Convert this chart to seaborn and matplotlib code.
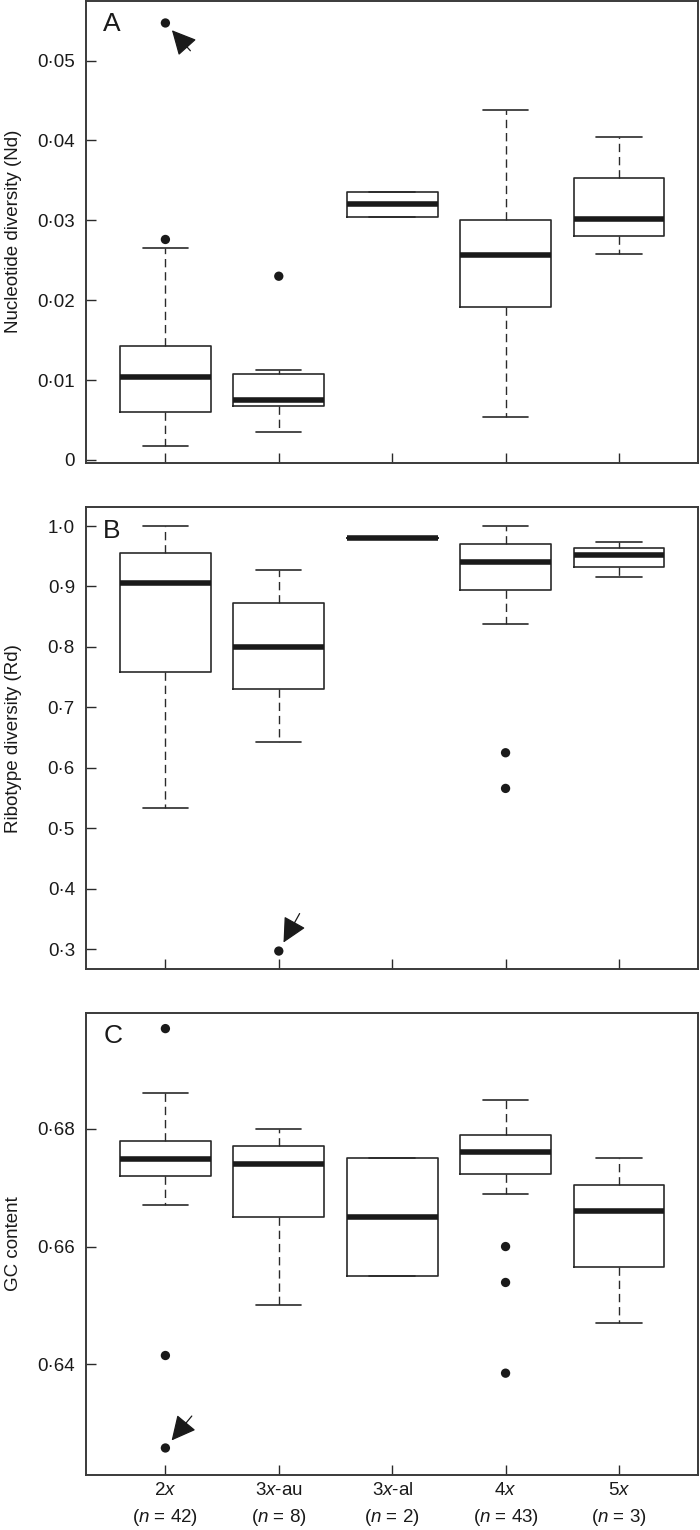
import matplotlib
matplotlib.use('Agg')
import matplotlib.pyplot as plt
import seaborn as sns
import pandas as pd

# ── DATA ─────────────────────────────────────────────────────────
groups = ['2x', '3x-au', '3x-al', '4x', '5x']
group_labels = ['2$\\it{x}$', '3$\\it{x}$-au', '3$\\it{x}$-al', '4$\\it{x}$', '5$\\it{x}$']
n_counts = [42, 8, 2, 43, 3]

# A: nucleotide diversity
nd_lo = [0.0018, 0.0035, 0.0304, 0.0054, 0.0258]
nd_q1 = [0.0060, 0.0068, 0.0304, 0.0192, 0.0280]
nd_med = [0.0104, 0.0075, 0.0320, 0.0256, 0.0302]
nd_q3 = [0.0143, 0.0107, 0.0335, 0.0300, 0.0353]
nd_hi = [0.0265, 0.0112, 0.0335, 0.0438, 0.0404]
nd_fliers = [[0.0276, 0.0547], [0.0230], [], [], []]
nd_marked = ('2x', 0.0547)

# B: ribotype diversity
rd_lo = [0.533, 0.643, 0.980, 0.838, 0.915]
rd_q1 = [0.758, 0.731, 0.980, 0.895, 0.933]
rd_med = [0.905, 0.800, 0.980, 0.941, 0.952]
rd_q3 = [0.956, 0.872, 0.980, 0.971, 0.963]
rd_hi = [1.000, 0.927, 0.980, 1.000, 0.974]
rd_fliers = [[], [0.297], [], [0.625, 0.566], []]
rd_marked = ('3x-au', 0.297)

# C: GC content
gc_lo = [0.6670, 0.6500, 0.6550, 0.6689, 0.6470]
gc_q1 = [0.6720, 0.6650, 0.6550, 0.6724, 0.6565]
gc_med = [0.6749, 0.6740, 0.6650, 0.6760, 0.6660]
gc_q3 = [0.6779, 0.6770, 0.6750, 0.6789, 0.6704]
gc_hi = [0.6860, 0.6800, 0.6750, 0.6849, 0.6750]
gc_fliers = [[0.6970, 0.6415, 0.6258], [], [], [0.6600, 0.6539, 0.6385], []]
gc_marked = ('2x', 0.6258)

sns.set_style('ticks')
plt.rcParams['font.family'] = ['Liberation Sans', 'DejaVu Sans']
plt.rcParams['mathtext.fontset'] = 'custom'
plt.rcParams['mathtext.rm'] = 'Liberation Sans'
plt.rcParams['mathtext.it'] = 'Liberation Sans:italic'

LINE = '#2a2a2a'

panels = [
    dict(letter='A', ylabel='Nucleotide diversity (Nd)', lo=nd_lo, q1=nd_q1, med=nd_med, q3=nd_q3, hi=nd_hi,
         fliers=nd_fliers, marked=nd_marked, arrow=(18, -20), ylim=(-0.00034, 0.0575),
         ticks=[0, 0.01, 0.02, 0.03, 0.04, 0.05], fmt=lambda v: '0' if v == 0 else f'{v:.2f}'.replace('.', '·'),
         rect=[0.1229, 0.6976, 0.8747, 0.3020]),
    dict(letter='B', ylabel='Ribotype diversity (Rd)', lo=rd_lo, q1=rd_q1, med=rd_med, q3=rd_q3, hi=rd_hi,
         fliers=rd_fliers, marked=rd_marked, arrow=(15, 27), ylim=(0.2669, 1.0314),
         ticks=[0.3, 0.4, 0.5, 0.6, 0.7, 0.8, 0.9, 1.0], fmt=lambda v: f'{v:.1f}'.replace('.', '·'),
         rect=[0.1229, 0.3665, 0.8747, 0.3021]),
    dict(letter='C', ylabel='GC content', lo=gc_lo, q1=gc_q1, med=gc_med, q3=gc_q3, hi=gc_hi,
         fliers=gc_fliers, marked=gc_marked, arrow=(19, 23), ylim=(0.6212, 0.6997),
         ticks=[0.64, 0.66, 0.68], fmt=lambda v: f'{v:.2f}'.replace('.', '·'),
         rect=[0.1229, 0.0359, 0.8747, 0.3022]),
]

fig = plt.figure(figsize=(7, 15.3), dpi=100)
positions = list(range(1, len(groups) + 1))

for p in panels:
    ax = fig.add_axes(p['rect'])
    stats = []
    for i, g in enumerate(groups):
        stats.append(dict(label=g, whislo=p['lo'][i], q1=p['q1'][i], med=p['med'][i],
                          q3=p['q3'][i], whishi=p['hi'][i], fliers=[]))
    ax.bxp(stats, positions=positions, widths=0.8, capwidths=0.4, showfliers=False,
           patch_artist=False,
           boxprops=dict(color=LINE, linewidth=1.2),
           whiskerprops=dict(color=LINE, linewidth=1.0, linestyle=(0, (6, 3.5))),
           capprops=dict(color=LINE, linewidth=1.2),
           medianprops=dict(color='#1a1a1a', linewidth=4.0, solid_capstyle='butt'))

    # outlier points
    fl = pd.DataFrame([(positions[i], v) for i, vals in enumerate(p['fliers']) for v in vals],
                      columns=['pos', 'value'])
    sns.scatterplot(data=fl, x='pos', y='value', ax=ax, color='#1a1a1a', s=45,
                    edgecolor='none', zorder=5, legend=False)

    # arrow to the marked outlier
    g, v = p['marked']
    ax.annotate('', xy=(positions[groups.index(g)], v), xytext=p['arrow'],
                textcoords='offset points',
                arrowprops=dict(arrowstyle='-|>,head_length=0.8,head_width=0.4',
                                mutation_scale=19, color='#1a1a1a', lw=0.9,
                                shrinkA=0, shrinkB=7))

    ax.set_xlim(0.30, 5.70)
    ax.set_ylim(*p['ylim'])
    ax.set_yticks(p['ticks'])
    ax.set_yticklabels([p['fmt'](t) for t in p['ticks']])
    ax.set_xticks(positions)
    if p['letter'] == 'C':
        ax.set_xticklabels([f'{lab}\n($\\it{{n}}$ = {n})' for lab, n in zip(group_labels, n_counts)],
                           linespacing=1.5)
    else:
        ax.set_xticklabels([])
    ax.tick_params(direction='in', length=7, width=1.0, color=LINE, labelsize=13.5,
                   labelcolor='#1a1a1a')
    ax.tick_params(axis='y', pad=8)
    ax.tick_params(axis='x', pad=5)
    ax.set_ylabel(p['ylabel'], fontsize=13.5, color='#1a1a1a')
    ax.yaxis.set_label_coords(-0.1046, 0.5)
    ax.set_xlabel('')
    for s in ax.spines.values():
        s.set_visible(True)
        s.set_color('#3a3a3a')
        s.set_linewidth(1.4)
    ax.text(0.028, 0.975, p['letter'], transform=ax.transAxes, fontsize=19,
            ha='left', va='top', color='#1a1a1a')

fig.savefig('out.png', dpi=100)
